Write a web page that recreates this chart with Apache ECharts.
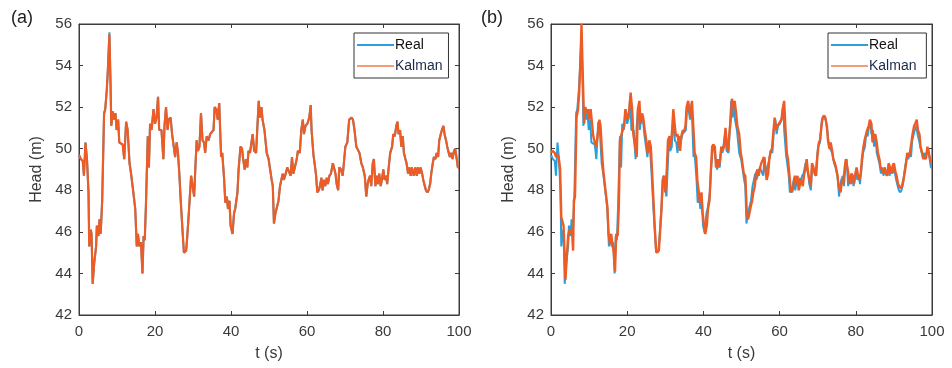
<!DOCTYPE html>
<html>
<head>
<meta charset="utf-8">
<script src="https://cdn.jsdelivr.net/npm/echarts@6/dist/echarts.min.js"></script>
<style>
html,body{margin:0;padding:0;background:#fff;}
#chart{width:952px;height:368px;}
</style>
</head>
<body>
<div id="chart"></div>
<script>
// ---- Data ----
const xTicks = [0, 20, 40, 60, 80, 100];
const yTicks = [42, 44, 46, 48, 50, 52, 54, 56];
const panelLabels = ['(a)', '(b)'];
const seriesNames = ['Real', 'Kalman'];

// time (s) for the real head and panel (a) Kalman estimate
const tReal = [
0.0,0.5,1.0,1.3,1.7,2.1,2.5,2.7,3.1,3.3,3.6,4.0,4.5,4.7,5.1,5.4,5.7,6.1,6.6,6.9,
7.3,7.6,8.0,8.3,8.5,8.9,9.2,9.6,9.9,10.3,10.6,11.0,11.5,11.9,12.4,12.8,13.3,13.7,14.3,14.8,
15.2,15.5,15.9,16.3,16.7,17.0,17.3,17.6,18.1,18.4,18.7,19.1,19.6,20.0,20.4,20.8,21.1,21.7,22.2,22.5,
22.9,23.3,23.6,24.1,24.5,24.8,25.3,25.7,26.05,26.4,26.8,27.3,27.6,28.2,28.5,29.0,29.5,29.9,30.3,30.6,
30.96,31.3,31.7,32.1,32.5,32.9,33.2,33.6,34.1,34.5,34.9,35.4,35.7,36.1,36.5,36.9,37.4,37.7,38.2,38.5,
38.9,39.2,39.6,39.9,40.4,40.8,41.1,41.7,42.0,42.5,42.9,43.2,43.6,43.95,44.3,44.6,45.0,45.3,45.7,46.1,
46.6,46.9,47.3,47.6,48.0,48.3,48.8,49.4,49.9,50.3,50.7,51.0,51.3,51.7,52.1,52.5,52.9,53.2,53.6,53.9,
54.4,54.8,55.3,55.7,56.05,56.4,56.8,57.3,57.6,58.1,58.5,58.9,59.2,59.6,60.1,60.6,60.97,61.2,61.7,62.0,
62.4,62.7,63.1,63.4,63.8,64.1,64.5,64.8,65.2,65.5,65.9,66.3,66.8,67.1,67.5,67.8,68.2,68.5,68.95,69.4,
69.7,70.1,70.6,71.1,71.7,72.1,72.5,72.98,73.4,73.8,74.3,74.7,75.2,75.6,75.96,76.2,76.6,76.9,77.3,77.6,
78.0,78.3,78.7,79.0,79.4,79.7,80.1,80.4,80.8,81.1,81.5,81.9,82.4,82.7,83.1,83.5,83.8,84.1,84.5,84.8,
85.2,85.5,85.9,86.2,86.6,86.9,87.3,87.6,88.1,88.5,88.9,89.2,89.6,89.9,90.3,90.6,91.0,91.3,91.7,92.0,
92.4,92.7,93.1,93.4,93.8,94.1,94.5,94.8,95.2,95.5,95.9,96.2,96.6,96.9,97.3,97.6,98.0,98.3,98.7,99.0,
99.4,99.7,100.0
];
// real head (m)
const headReal = [
49.7,49.5,49.4,48.7,50.3,49.5,47.9,45.3,46.1,45.9,43.5,44.5,45.3,46.3,45.8,46.6,45.9,47.5,51.7,51.9,
52.8,53.8,55.6,53.1,51.1,51.8,51.4,51.7,50.9,51.4,50.3,50.3,50.2,49.5,51.3,50.9,49.3,48.8,47.9,47.1,
45.3,45.9,45.3,45.5,44.0,45.8,45.6,47.2,50.6,49.1,51.2,50.9,51.9,51.2,51.5,52.5,50.9,50.9,49.5,51.1,
52.0,50.9,51.4,51.5,50.7,50.7,49.6,50.3,49.8,48.8,47.4,45.9,45.0,45.1,45.8,47.2,48.7,48.2,47.7,49.0,
50.4,49.9,50.1,51.7,50.4,50.3,49.8,50.6,50.4,50.7,50.7,50.9,52.0,51.9,51.4,52.2,49.6,49.8,48.5,47.4,
47.7,47.1,47.5,46.3,45.9,46.9,47.1,47.9,49.0,50.1,50.0,49.5,49.0,49.5,49.1,49.9,49.8,49.8,50.7,49.9,
49.8,50.9,52.3,51.5,52.0,51.4,50.9,49.8,49.5,49.0,48.5,48.2,46.4,46.9,46.9,47.5,48.2,48.2,48.8,48.5,
48.8,49.1,49.1,48.7,49.6,48.8,49.1,49.5,49.9,49.8,50.9,51.4,50.7,51.1,51.2,51.5,52.1,50.9,49.7,49.3,
48.7,47.9,48.0,48.2,48.6,48.0,48.5,48.2,48.6,48.3,48.7,48.8,49.3,49.1,48.8,48.3,48.0,49.1,49.0,48.7,
49.3,50.1,50.3,51.4,51.5,51.4,50.9,50.1,50.1,49.8,49.3,49.1,48.7,47.7,48.3,48.5,48.7,48.2,49.3,49.5,
48.2,48.7,48.3,48.8,48.2,48.5,49.0,48.5,48.7,48.3,49.1,49.8,50.1,50.7,50.6,51.1,51.3,50.7,50.9,50.1,
50.6,49.8,49.5,49.3,48.8,49.1,48.7,49.1,48.7,49.1,48.7,49.1,48.8,49.1,48.8,48.5,48.2,48.0,47.9,48.0,
48.3,48.8,49.3,49.6,49.5,49.8,49.6,50.4,50.7,50.9,51.1,50.7,50.4,50.1,49.8,49.6,49.8,49.5,49.9,50.0,
49.5,49.1,49.1
];
// panel (a) Kalman estimate (m), same time stamps as tReal
const headKalmanA = [
49.7,49.5,49.4,48.7,50.3,49.5,47.9,45.3,46.1,45.9,43.5,44.5,45.3,46.3,45.8,46.6,45.9,47.5,51.7,51.9,
52.8,53.8,55.5,53.1,51.1,51.8,51.4,51.7,50.9,51.4,50.3,50.3,50.2,49.5,51.3,50.9,49.3,48.8,47.9,47.1,
45.3,45.9,45.3,45.5,44.0,45.8,45.6,47.2,50.6,49.1,51.2,50.9,51.9,51.2,51.5,52.5,50.9,50.9,49.5,51.1,
52.0,50.9,51.4,51.5,50.7,50.7,49.6,50.3,49.8,48.8,47.4,45.9,45.0,45.1,45.8,47.2,48.7,48.2,47.7,49.0,
50.4,49.9,50.1,51.7,50.4,50.3,49.8,50.6,50.4,50.7,50.7,50.9,52.0,51.9,51.4,52.2,49.6,49.8,48.5,47.4,
47.7,47.1,47.5,46.3,45.9,46.9,47.1,47.9,49.0,50.1,50.0,49.5,49.0,49.5,49.1,49.9,49.8,49.8,50.7,49.9,
49.8,50.9,52.3,51.5,52.0,51.4,50.9,49.8,49.5,49.0,48.5,48.2,46.4,46.9,46.9,47.5,48.2,48.2,48.8,48.5,
48.8,49.1,49.1,48.7,49.6,48.8,49.1,49.5,49.9,49.8,50.9,51.4,50.7,51.1,51.2,51.5,52.1,50.9,49.7,49.3,
48.7,47.9,48.0,48.2,48.6,48.0,48.5,48.2,48.6,48.3,48.7,48.8,49.3,49.1,48.8,48.3,48.0,49.1,49.0,48.7,
49.3,50.1,50.3,51.4,51.5,51.4,50.9,50.1,50.1,49.8,49.3,49.1,48.7,47.7,48.3,48.5,48.7,48.2,49.3,49.5,
48.2,48.7,48.3,48.8,48.2,48.5,49.0,48.5,48.7,48.3,49.1,49.8,50.1,50.7,50.6,51.1,51.3,50.7,50.9,50.1,
50.6,49.8,49.5,49.3,48.8,49.1,48.7,49.1,48.7,49.1,48.7,49.1,48.8,49.1,48.8,48.5,48.2,48.0,47.9,48.0,
48.3,48.8,49.3,49.6,49.5,49.8,49.6,50.4,50.7,50.9,51.1,50.7,50.4,50.1,49.8,49.6,49.8,49.5,49.9,50.0,
49.5,49.1,49.1
];
// panel (b) Kalman estimate: time (s) and head (m)
const tKalmanB = [
0.0,0.4,1.0,1.3,1.7,2.0,2.4,2.7,3.1,3.3,3.8,4.1,4.5,4.8,5.2,5.5,5.8,6.0,6.3,6.7,
7.1,7.4,7.8,8.0,8.3,8.7,9.0,9.4,9.7,10.1,10.4,10.8,11.1,11.5,11.9,12.3,12.7,13.0,13.4,13.7,
14.3,14.8,15.1,15.5,15.8,16.2,16.5,16.8,17.1,17.5,17.8,18.1,18.5,18.8,19.2,19.5,19.9,20.2,20.6,20.9,
21.3,21.6,22.0,22.5,22.8,23.2,23.5,23.9,24.2,24.6,25.0,25.4,25.8,26.2,26.5,26.9,27.2,27.6,27.9,28.3,
28.6,29.0,29.3,29.7,30.0,30.4,30.7,31.1,31.4,31.8,32.1,32.5,32.8,33.2,33.5,33.9,34.2,34.6,34.9,35.3,
35.6,36.0,36.3,36.7,37.0,37.4,37.7,38.1,38.4,38.8,39.1,39.5,39.8,40.2,40.5,40.9,41.2,41.6,41.9,42.3,
42.6,43.0,43.3,43.7,44.0,44.4,44.7,45.1,45.4,45.8,46.1,46.5,46.8,47.2,47.5,47.9,48.2,48.6,48.9,49.4,
49.8,50.1,50.6,51.0,51.4,51.7,52.1,52.4,52.8,53.1,53.5,53.8,54.2,54.5,54.9,55.2,55.6,55.9,56.3,56.6,
57.0,57.3,57.7,58.0,58.4,58.7,59.1,59.4,59.8,60.1,60.5,60.8,61.2,61.5,61.9,62.2,62.6,62.9,63.3,63.6,
64.0,64.3,64.7,65.0,65.4,65.7,66.1,66.4,66.8,67.1,67.5,67.8,68.2,68.5,68.9,69.2,69.6,69.9,70.3,70.6,
71.0,71.3,71.7,72.0,72.4,72.7,73.1,73.4,73.8,74.1,74.5,74.8,75.2,75.5,76.0,76.4,76.7,77.1,77.4,77.8,
78.1,78.5,78.8,79.2,79.5,79.9,80.2,80.6,80.9,81.3,81.6,82.0,82.3,82.7,83.0,83.4,83.7,84.1,84.4,84.8,
85.1,85.5,85.8,86.2,86.5,86.9,87.2,87.6,87.9,88.3,88.6,89.0,89.3,89.7,90.0,90.4,90.7,91.1,91.4,91.8,
92.1,92.5,92.8,93.2,93.5,93.9,94.2,94.6,94.9,95.3,95.6,96.0,96.3,96.7,97.0,97.4,97.7,98.1,98.4,98.8,
99.1,99.5,99.8,100.0
];
const headKalmanB = [
49.8,49.9,49.8,49.6,49.7,49.6,49.0,46.7,46.7,46.3,43.7,44.7,45.8,46.1,45.9,46.1,45.1,47.5,47.7,51.5,
51.9,52.7,54.6,56.0,53.8,51.2,52.0,51.7,51.9,51.4,51.9,51.9,50.6,50.3,50.1,50.1,51.4,51.1,49.8,49.0,
48.0,47.2,45.9,45.4,45.9,45.3,45.0,44.1,45.9,45.8,47.2,50.4,50.7,50.7,51.1,51.9,51.5,51.4,52.0,52.7,
51.9,50.7,50.7,49.6,51.9,52.3,51.2,51.7,51.5,50.9,50.4,49.8,50.4,50.1,49.0,47.5,46.3,45.1,45.0,45.1,
45.9,47.1,48.5,48.7,47.9,49.0,50.4,50.6,50.1,50.9,51.9,51.1,50.6,50.7,50.3,49.9,50.6,50.9,50.8,51.1,
52.0,52.3,51.9,51.5,52.3,50.9,49.8,49.6,48.5,47.9,47.4,47.9,46.9,46.3,45.9,46.3,47.1,47.5,48.7,50.1,
50.2,50.1,49.1,49.5,49.1,49.5,50.1,49.9,50.1,51.0,50.3,49.9,50.7,51.4,52.4,52.0,52.3,51.7,51.1,50.7,
49.8,49.5,48.8,48.7,46.9,46.6,46.9,47.2,47.5,47.9,48.2,48.8,49.0,48.7,49.1,49.3,49.3,49.6,49.0,48.5,
48.8,49.5,49.9,50.0,50.9,51.5,50.9,51.1,51.2,51.2,51.4,51.9,52.3,51.1,49.8,49.5,48.7,48.0,47.9,48.2,
48.7,48.3,48.7,48.0,48.3,48.5,48.2,48.7,49.1,49.5,48.8,48.8,48.2,49.3,49.1,48.8,48.7,49.6,50.3,50.4,
51.1,51.5,51.6,51.5,51.1,50.4,50.0,50.3,49.9,49.5,49.3,49.1,48.7,48.2,47.9,48.5,48.3,49.1,49.5,49.1,
48.7,48.3,48.8,48.7,48.3,48.8,49.1,48.7,48.5,48.8,49.5,50.1,50.4,50.7,50.9,51.1,51.4,51.2,50.3,50.6,
50.7,50.3,49.8,49.5,49.1,49.0,48.8,49.1,48.8,48.7,49.3,49.1,48.8,49.2,49.3,48.9,48.7,48.3,48.2,48.1,
48.2,48.5,48.8,49.3,49.8,49.6,49.8,50.3,50.7,51.1,51.2,51.4,50.9,50.7,50.1,49.8,49.5,49.6,49.5,50.1,
50.1,49.5,49.3,49.3
];

// ---- Build chart ----
function pairs(t, v) { return t.map((x, i) => [x, v[i]]); }

const chart = echarts.init(document.getElementById('chart'), null, { renderer: 'canvas' });

const FONT = 'Liberation Sans, Arial, sans-serif';
const AX = '#3c3c3c';
const TXT = '#3a3a3a';
const BLUE = '#2b9fdb';
const ORANGE = '#ee5c26';

const grids = [
  { left: 79, top: 24, width: 380, height: 291 },
  { left: 551, top: 24, width: 381, height: 291 }
];

const xAxes = [], yAxes = [], series = [], legends = [], graphics = [];
grids.forEach((g, gi) => {
  g.show = true; g.borderColor = AX; g.borderWidth = 1; g.backgroundColor = '#fff';
  xAxes.push({
    gridIndex: gi, type: 'value', min: xTicks[0], max: xTicks[xTicks.length - 1], interval: 20,
    position: 'bottom',
    name: 't (s)', nameLocation: 'middle', nameGap: 31,
    nameTextStyle: { fontFamily: FONT, fontSize: 16, color: TXT },
    axisLine: { show: true, onZero: false, lineStyle: { color: AX, width: 1 } },
    axisTick: { show: true, inside: true, length: 4, lineStyle: { color: AX } },
    axisLabel: { fontFamily: FONT, fontSize: 15, color: TXT, margin: 9 },
    splitLine: { show: false }
  });
  xAxes.push({
    gridIndex: gi, type: 'value', min: 0, max: 100, interval: 20, position: 'top',
    axisLine: { show: true, onZero: false, lineStyle: { color: AX, width: 1 } },
    axisTick: { show: true, inside: true, length: 4, lineStyle: { color: AX } },
    axisLabel: { show: false }, splitLine: { show: false }
  });
  yAxes.push({
    gridIndex: gi, type: 'value', min: yTicks[0], max: yTicks[yTicks.length - 1], interval: 2,
    position: 'left',
    name: 'Head (m)', nameLocation: 'middle', nameGap: 34, nameRotate: 90,
    nameTextStyle: { fontFamily: FONT, fontSize: 16, color: TXT },
    axisLine: { show: true, onZero: false, lineStyle: { color: AX, width: 1 } },
    axisTick: { show: true, inside: true, length: 4, lineStyle: { color: AX } },
    axisLabel: { fontFamily: FONT, fontSize: 15, color: TXT, margin: 7 },
    splitLine: { show: false }
  });
  yAxes.push({
    gridIndex: gi, type: 'value', min: 42, max: 56, interval: 2, position: 'right',
    axisLine: { show: true, onZero: false, lineStyle: { color: AX, width: 1 } },
    axisTick: { show: true, inside: true, length: 4, lineStyle: { color: AX } },
    axisLabel: { show: false }, splitLine: { show: false }
  });
  graphics.push({
    type: 'text', left: gi === 0 ? 11 : 481, top: 9,
    style: { text: panelLabels[gi], font: '18px ' + FONT, fill: '#222' }
  });
  legends.push({
    show: true, orient: 'vertical',
    left: gi === 0 ? 354 : 828, top: 33,
    data: [{ name: seriesNames[0] + (gi ? ' ' : ''), textStyle: { color: '#111' } },
           { name: seriesNames[1] + (gi ? ' ' : ''), textStyle: { color: '#1a2a4a' } }],
    backgroundColor: '#fff', borderColor: '#333', borderWidth: 1,
    padding: [4, 6, 4, 3], itemGap: 5, itemWidth: 37, itemHeight: 2,
    icon: 'rect',
    textStyle: { fontFamily: FONT, fontSize: 14, color: '#111', padding: [0, 0, 0, -4], lineHeight: 16 },
    selectedMode: false
  });
});

series.push({
  name: 'Real', type: 'line', xAxisIndex: 0, yAxisIndex: 0,
  data: pairs(tReal, headReal), showSymbol: false, symbol: 'none',
  lineStyle: { color: BLUE, width: 2 }, itemStyle: { color: BLUE }, z: 2
});
series.push({
  name: 'Kalman', type: 'line', xAxisIndex: 0, yAxisIndex: 0,
  data: pairs(tReal, headKalmanA), showSymbol: false, symbol: 'none',
  lineStyle: { color: ORANGE, width: 2.2 }, itemStyle: { color: '#f79c7a' }, z: 3
});
series.push({
  name: 'Real ', type: 'line', xAxisIndex: 2, yAxisIndex: 2,
  data: pairs(tReal, headReal), showSymbol: false, symbol: 'none',
  lineStyle: { color: BLUE, width: 2 }, itemStyle: { color: BLUE }, z: 2
});
series.push({
  name: 'Kalman ', type: 'line', xAxisIndex: 2, yAxisIndex: 2,
  data: pairs(tKalmanB, headKalmanB), showSymbol: false, symbol: 'none',
  lineStyle: { color: ORANGE, width: 2.4 }, itemStyle: { color: '#f79c7a' }, z: 3
});

chart.setOption({
  animation: false,
  backgroundColor: '#fff',
  grid: grids,
  xAxis: xAxes,
  yAxis: yAxes,
  legend: legends,
  series: series,
  graphic: graphics
});
</script>
</body>
</html>
